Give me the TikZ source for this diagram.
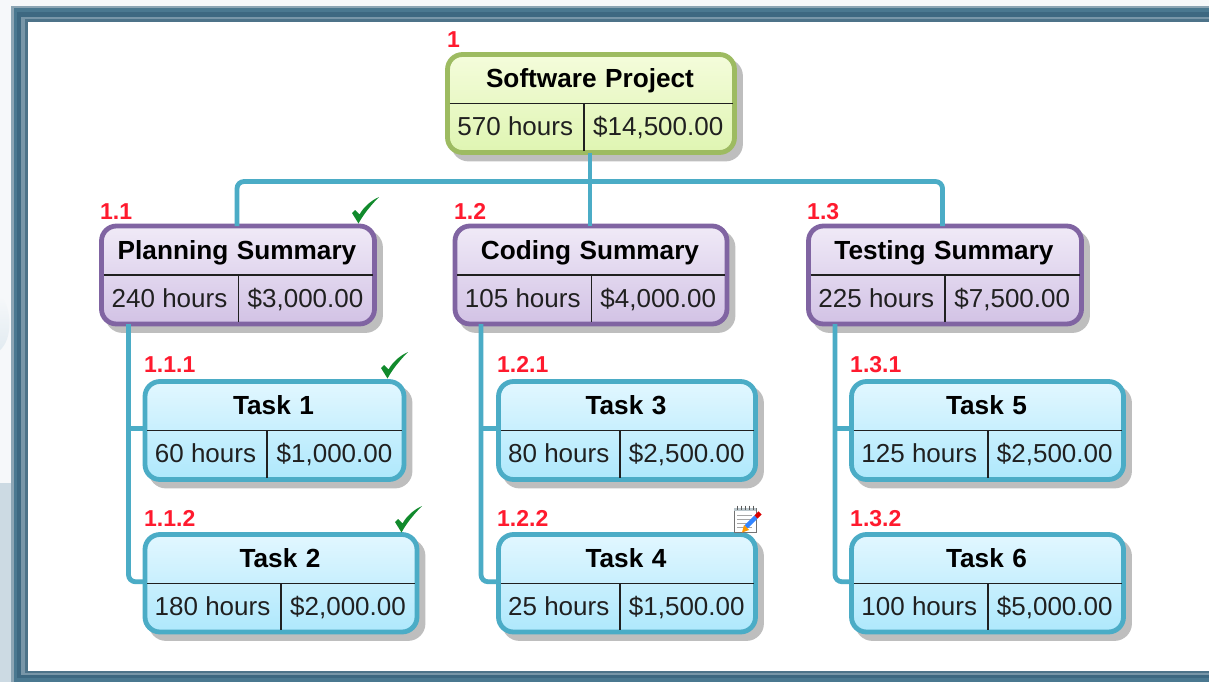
\documentclass[tikz,border=0pt]{standalone}
\usepackage{fontspec}
\setmainfont{Liberation Sans}
\usetikzlibrary{calc}
\definecolor{conn}{HTML}{4BACC6}
\definecolor{shad}{HTML}{BEBEBE}
\definecolor{rootb}{HTML}{9DBB61}
\definecolor{purb}{HTML}{8064A2}
\definecolor{blueb}{HTML}{4BACC6}
\definecolor{wbsred}{HTML}{FF1A2E}
\definecolor{chk}{HTML}{118A2C}
\definecolor{txt}{HTML}{202020}
\definecolor{roott}{HTML}{F4FCDB}
\definecolor{rootu}{HTML}{DFF5B2}
\definecolor{purt}{HTML}{F0EAF7}
\definecolor{puru}{HTML}{D2C2E5}
\definecolor{blut}{HTML}{E2F7FF}
\definecolor{bluu}{HTML}{AEE8FC}
\definecolor{fa}{HTML}{8CA5B4}
\definecolor{fb}{HTML}{4A7890}
\definecolor{fc}{HTML}{3D6881}
\definecolor{fd}{HTML}{7896A8}
\definecolor{fe}{HTML}{4D7389}
\definecolor{bga}{HTML}{F6F8FA}
\definecolor{bgb}{HTML}{CCDAE3}
\definecolor{bgc}{HTML}{E2EBF1}
\tikzset{
  wbsbox/.style={rectangle,rounded corners=15pt,line width=4.8pt,inner sep=0pt,outer sep=0pt,anchor=north west},
  rootbox/.style={wbsbox,draw=rootb,top color=roott,bottom color=rootu},
  sumbox/.style={wbsbox,draw=purb,top color=purt,bottom color=puru},
  taskbox/.style={wbsbox,draw=blueb,top color=blut,bottom color=bluu},
  shadowbox/.style={wbsbox,draw=shad,fill=shad},
  conline/.style={draw=conn,line width=4.8pt,rounded corners=7pt},
  sepline/.style={draw=txt,line width=1.8pt},
  title/.style={font=\fontsize{26.2}{28}\selectfont\bfseries,text=black,inner sep=0pt,anchor=base},
  cell/.style={font=\fontsize{26}{28}\selectfont,text=txt,inner sep=0pt,anchor=base},
  wbsnum/.style={font=\fontsize{23}{25}\selectfont\bfseries,text=wbsred,inner sep=0pt,anchor=base west},
  tick/.style={fill=chk,draw=none}
}
\newcommand{\wbsbox}[9]{%
  \node[shadowbox,minimum width=#4-#2,minimum height=#5-#3] at (#2+6,#3+6.5) (#1s) {};
  \node[#6,minimum width=#4-#2,minimum height=#5-#3] at (#2,#3) (#1) {};
  \draw[sepline] (#2+2,#3+49) -- (#4-2,#3+49);
  \draw[sepline] (#7,#3+49) -- (#7,#5-2);
  \node[title] at ($(#1.north)+(-1,33)$) (#1t) {\spaceskip=8.5pt\relax #8};
  \wbscells{#1}{#2}{#4}{#5}{#7}#9
}
\newcommand{\wbscells}[7]{%
  \node[cell] at ($(#2-1,#4-17)!.5!(#5,#4-17)$) (#1l) {#6};
  \node[cell] at ($(#5,#4-17)!.5!(#3-2,#4-17)$) (#1r) {#7};
}
\newcommand{\tickmark}[3]{%
  \begin{scope}[shift={(#2,#3)}]
  \path[tick] (0,0) -- (3,-3) -- (7.5,1.5) .. controls (11,-5) and (18,-12) .. (27,-16)
    .. controls (19,-8) and (11,2) .. (6.5,10.5) -- cycle;
  \end{scope}
  \coordinate (#1) at (#2,#3);
}
\begin{document}
\begin{tikzpicture}[x=1pt,y=-1pt]
\useasboundingbox (0,0) rectangle (1209,682);
% page background
\fill[bga] (0,0) rectangle (1209,682);
\fill[bgb] (0,483) rectangle (11,682);
\shade[top color=bga,bottom color=bgc] (0,296) .. controls (6,301) and (9.5,312) .. (9.5,323) .. controls (9.5,335) and (6,345) .. (0,350) -- cycle;
% frame
\fill[fa] (10.5,6) rectangle (1209,682);
\fill[fb] (14,8.5) rectangle (1209,682);
\fill[fc] (17,12) rectangle (1209,678);
\fill[fd] (21,17) rectangle (1209,675);
\fill[fe] (25,19) rectangle (1209,673);
\fill[white] (28,22) rectangle (1209,671);
% boxes
\wbsbox{root}{447.5}{54.5}{734.5}{152.5}{rootbox}{584}{Software Project}{{570 hours}{\$14,500.00}}
\wbsbox{plan}{101.5}{226}{374.5}{324}{sumbox}{238.5}{Planning Summary}{{240 hours}{\$3,000.00}}
\wbsbox{code}{455}{226}{727}{324}{sumbox}{591.5}{Coding Summary}{{105 hours}{\$4,000.00}}
\wbsbox{test}{808.5}{226}{1081.5}{324}{sumbox}{945}{Testing Summary}{{225 hours}{\$7,500.00}}
\wbsbox{ta}{145}{381.5}{404}{479.5}{taskbox}{267}{Task 1}{{60 hours}{\$1,000.00}}
\wbsbox{tb}{145}{534.5}{417}{632}{taskbox}{281}{Task 2}{{180 hours}{\$2,000.00}}
\wbsbox{tc}{498.5}{381.5}{755.5}{479.5}{taskbox}{620}{Task 3}{{80 hours}{\$2,500.00}}
\wbsbox{td}{498.5}{534.5}{755.5}{632}{taskbox}{620}{Task 4}{{25 hours}{\$1,500.00}}
\wbsbox{te}{851.5}{381.5}{1123.5}{479.5}{taskbox}{988}{Task 5}{{125 hours}{\$2,500.00}}
\wbsbox{tf}{851.5}{534.5}{1123.5}{632}{taskbox}{988}{Task 6}{{100 hours}{\$5,000.00}}
% connectors
\coordinate (bus) at (590,181.5);
\coordinate (pltop) at ($(plan.north)+(-1,0)$);
\coordinate (tetop) at ($(test.north)+(-2.5,0)$);
\draw[conline] (pltop) |- (bus) -| (tetop);
\draw[conline,rounded corners=0pt] (root.south -| bus) -- (code.north -| bus);
\coordinate (spa) at (128.5,0);
\coordinate (spb) at (481,0);
\coordinate (spc) at (835,0);
\coordinate (jb) at ($(tb.west)+(0,-1.5)$);
\coordinate (jd) at ($(td.west)+(0,-1.5)$);
\coordinate (jf) at ($(tf.west)+(0,-1.5)$);
\coordinate (ja) at ($(ta.west)+(0,-2)$);
\coordinate (jc) at ($(tc.west)+(0,-2)$);
\coordinate (je) at ($(te.west)+(0,-2)$);
\draw[conline] (plan.south -| spa) |- (jb);
\draw[conline,rounded corners=0pt] (spa |- ja) -- (ja);
\draw[conline] (code.south -| spb) |- (jd);
\draw[conline,rounded corners=0pt] (spb |- jc) -- (jc);
\draw[conline] (test.south -| spc) |- (jf);
\draw[conline,rounded corners=0pt] (spc |- je) -- (je);
% numbers
\node[wbsnum] (n1) at (447,48) {1};
\node[wbsnum] (n11) at (100,219.5) {1.1};
\node[wbsnum] (n12) at (454,219.5) {1.2};
\node[wbsnum] (n13) at (807,219.5) {1.3};
\node[wbsnum] (n111) at (144,372.5) {1.1.1};
\node[wbsnum] (n112) at (144,526) {1.1.2};
\node[wbsnum] (n121) at (497,372.5) {1.2.1};
\node[wbsnum] (n122) at (497,526) {1.2.2};
\node[wbsnum] (n131) at (850,372.5) {1.3.1};
\node[wbsnum] (n132) at (850,526) {1.3.2};
% ticks
\tickmark{ck1}{352}{213}
\tickmark{ck2}{381}{368}
\tickmark{ck3}{395}{522}
% note icon
\begin{scope}[shift={(733,505)}]
  \draw[fill=white,draw=black!55,line width=.8pt] (1,3) rectangle (23,27);
  \fill[blut!60!gray] (1,3) rectangle (23,6);
  \foreach \i in {4,8,12,16,20} \draw[black!65,line width=1pt] (\i,0.5) -- (\i,5);
  \foreach \j in {10,14,18,22} \draw[black!35,line width=.8pt] (4,\j) -- (19,\j);
  \draw[line width=4.5pt,draw=blue!60!cyan!80!white] (13,22) -- (23,12);
  \draw[line width=4.5pt,draw=red!85!black] (23,12) -- (27,8);
  \fill[orange!80!yellow] (9,27.5) -- (11,20) -- (16,25) -- cycle;
\end{scope}
\end{tikzpicture}
\end{document}
